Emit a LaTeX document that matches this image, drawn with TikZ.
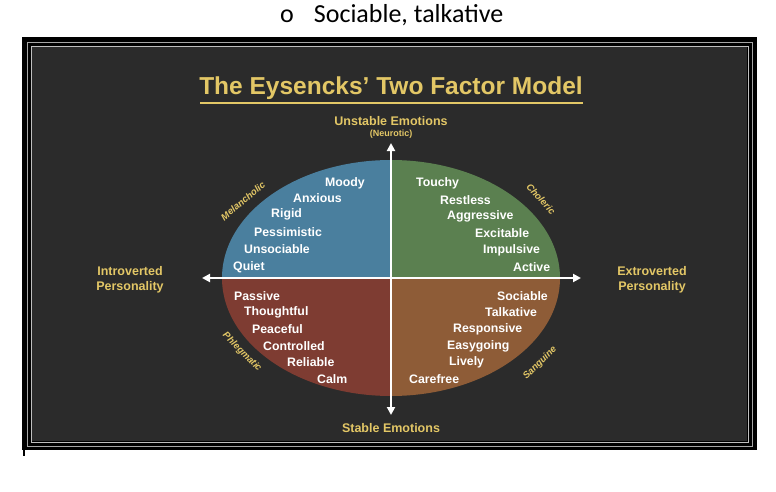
\documentclass[tikz,border=0pt]{standalone}
\usepackage{fontspec}
\setmainfont{Liberation Sans}
\newfontfamily\carlitofont{Carlito}
\usetikzlibrary{arrows.meta}
\definecolor{bg}{HTML}{2B2B2B}
\definecolor{gold}{HTML}{E3C766}
\definecolor{qblue}{HTML}{4A7F9E}
\definecolor{qgreen}{HTML}{5B8050}
\definecolor{qred}{HTML}{7E3C32}
\definecolor{qbrown}{HTML}{8E5C37}
\tikzset{
 w/.style={text=white,font=\bfseries\fontsize{12.3}{12}\selectfont,inner sep=0pt,anchor=west},
 g/.style={text=gold,font=\bfseries\fontsize{12.5}{15}\selectfont,align=center,inner sep=0pt},
 t/.style={text=gold,font=\bfseries\itshape\fontsize{9.5}{9}\selectfont,inner sep=0pt},
 ax/.style={white,line width=2.2pt,{Triangle[length=8pt,width=8pt]}-{Triangle[length=8pt,width=8pt]}}
}
\begin{document}
\begin{tikzpicture}[x=1pt,y=-1pt]
\useasboundingbox (0,0) rectangle (776,492);
\fill[white] (0,0) rectangle (776,492);
\node[font=\carlitofont\fontsize{26}{26}\selectfont,anchor=west,inner sep=0pt] (o) at (280,15) {o\hspace{20pt}Sociable, talkative};
\fill[black] (22,37) rectangle (757,450);
\draw[black,line width=1.5pt] (24,450) -- (24,456);
\draw[gray!70,line width=0.8pt] (27,42) rectangle (752,446);
\draw[gray!50,line width=0.6pt] (31,46) rectangle (748,442);
\fill[bg] (32,47) rectangle (747,441);
\node[text=gold,font=\bfseries\fontsize{24.5}{24}\selectfont,inner sep=0pt] (title) at (391,88) {The Eysencks’ Two Factor Model};
\draw[gold,line width=2pt] (200,103) -- (583,103);
\coordinate (c) at (391,278);
\begin{scope}
\clip (c) ellipse [x radius=169,y radius=118];
\fill[qblue] (c) rectangle (200,150);
\fill[qgreen] (c) rectangle (580,150);
\fill[qred] (c) rectangle (200,410);
\fill[qbrown] (c) rectangle (580,410);
\end{scope}
\coordinate (l) at (202,278); \coordinate (r) at (581,278);
\coordinate (u) at (391,143); \coordinate (d) at (391,415);
\draw[ax] (l) -- (r);
\draw[ax] (u) -- (d);
\node[g] (ue) at (391,121) {Unstable Emotions};
\node[text=gold,font=\bfseries\fontsize{9}{9}\selectfont,inner sep=0pt] (ne) at (391,134) {(Neurotic)};
\node[g] (se) at (391,428) {Stable Emotions};
\node[g] (ip) at (130,280) {Introverted\\Personality};
\node[g] (ep) at (652,280) {Extroverted\\Personality};
\node[w] at (325,183) {Moody};
\node[w] at (293,198) {Anxious};
\node[w] at (271,214) {Rigid};
\node[w] at (254,232) {Pessimistic};
\node[w] at (244,249) {Unsociable};
\node[w] at (233,267) {Quiet};
\node[w] at (416,183) {Touchy};
\node[w] at (440,200) {Restless};
\node[w] at (447,216) {Aggressive};
\node[w] at (475,233) {Excitable};
\node[w] at (483,250) {Impulsive};
\node[w] at (513,267) {Active};
\node[w] at (234,296) {Passive};
\node[w] at (244,312) {Thoughtful};
\node[w] at (252,329) {Peaceful};
\node[w] at (263,346) {Controlled};
\node[w] at (287,362) {Reliable};
\node[w] at (317,379) {Calm};
\node[w] at (497,296) {Sociable};
\node[w] at (485,312) {Talkative};
\node[w] at (453,329) {Responsive};
\node[w] at (447,346) {Easygoing};
\node[w] at (449,362) {Lively};
\node[w] at (409,379) {Carefree};
\node[t,rotate=40] at (243,201) {Melancholic};
\node[t,rotate=-48] at (541,199) {Choleric};
\node[t,rotate=-45] at (242,352) {Phlegmatic};
\node[t,rotate=45] at (540,363) {Sanguine};
\end{tikzpicture}
\end{document}
